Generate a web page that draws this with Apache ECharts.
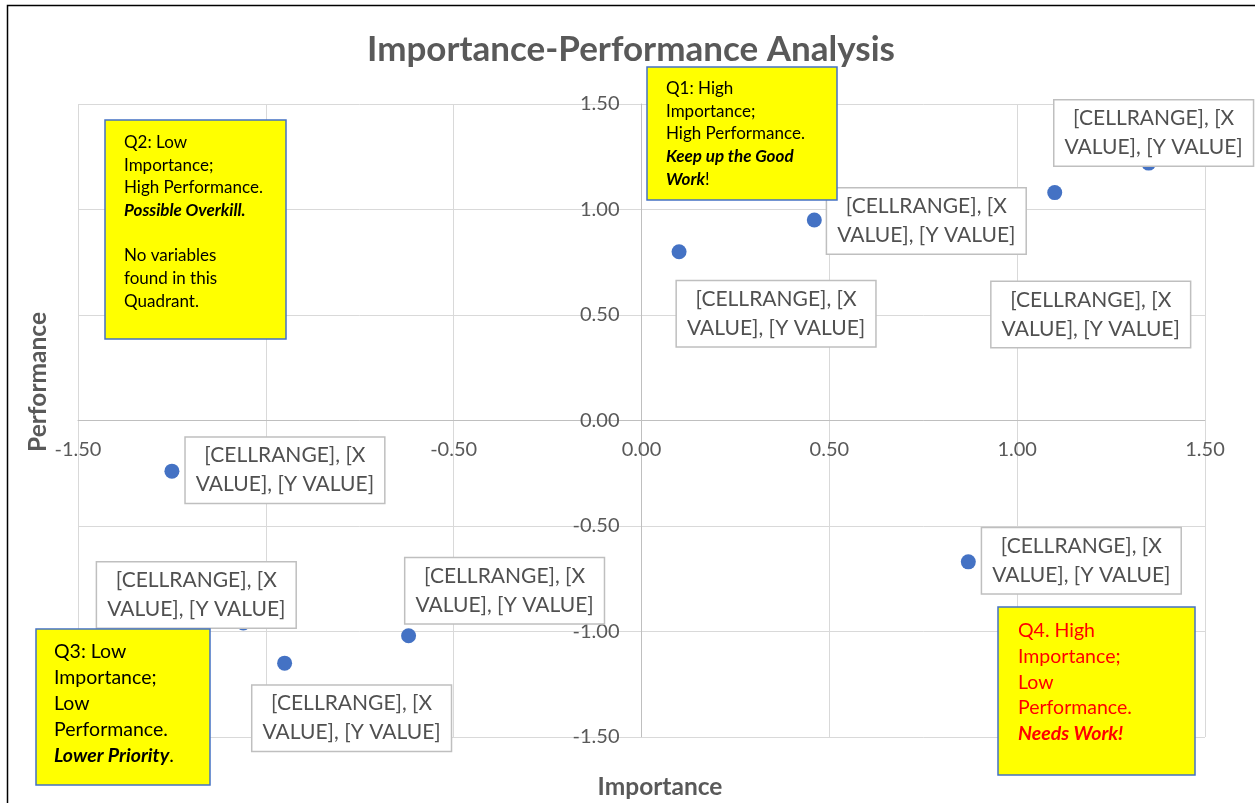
<!DOCTYPE html>
<html><head><meta charset="utf-8">
<script src="https://cdn.jsdelivr.net/npm/echarts@6/dist/echarts.min.js"></script>
<style>html,body{margin:0;padding:0;background:#fff}#c{width:1255px;height:803px}</style>
</head><body><div id="c"></div>
<script>
// ---- data ----
const importance  = [0.10, 0.46, 1.10, 1.35, -1.25, 0.87, -1.06, -0.95, -0.62];
const performance = [0.80, 0.95, 1.08, 1.22, -0.24, -0.67, -0.96, -1.15, -1.02];
const pointLabels = [
  '[CELLRANGE], [X\nVALUE], [Y VALUE]','[CELLRANGE], [X\nVALUE], [Y VALUE]',
  '[CELLRANGE], [X\nVALUE], [Y VALUE]','[CELLRANGE], [X\nVALUE], [Y VALUE]',
  '[CELLRANGE], [X\nVALUE], [Y VALUE]','[CELLRANGE], [X\nVALUE], [Y VALUE]',
  '[CELLRANGE], [X\nVALUE], [Y VALUE]','[CELLRANGE], [X\nVALUE], [Y VALUE]',
  '[CELLRANGE], [X\nVALUE], [Y VALUE]'];
const axisMin = -1.5, axisMax = 1.5, axisStep = 0.5;
const titleText = 'Importance-Performance Analysis';
const xName = 'Importance', yName = 'Performance';
const q1Text = '{n|Q1: High}\n{n|Importance;}\n{n|High Performance.}\n{b|Keep up the Good}\n{b|Work}{n|!}';
const q2Text = '{n|Q2: Low}\n{n|Importance;}\n{n|High Performance.}\n{b|Possible Overkill.}\n{n| }\n{n|No variables}\n{n|found in this}\n{n|Quadrant.}';
const q3Text = '{n|Q3: Low}\n{n|Importance;}\n{n|Low}\n{n|Performance.}\n{b|Lower Priority}{n|.}';
const q4Text = '{n|Q4. High}\n{n|Importance;}\n{n|Low}\n{n|Performance.}\n{b|Needs Work!}';

// ---- layout/style (not data) ----
const FONT = 'Lato';
const labelOffsets = [[97,62],[112,1],[36,122],[5,-30],[113,-1],[113,-1],[-47,-28],[67,55],[96,-45]];
const W = 1255, H = 803, GL = 78, GT = 104, GR = 50, GB = 66;
const gw = W - GL - GR, gh = H - GT - GB;

const chart = echarts.init(document.getElementById('c'), null, {renderer:'canvas'});
function quadBox(x,y,w,h,tx,ty,text,fs,lh,color){
  return {type:'group', z:100, children:[
    {type:'rect', z:100, shape:{x:x,y:y,width:w,height:h}, style:{fill:'#ffff00', stroke:'#4472c4', lineWidth:1.5}},
    {type:'text', z:101, x:tx, y:ty, style:{text:text, fontFamily:FONT, verticalAlign:'top',
      rich:{n:{fontSize:fs, lineHeight:lh, fill:color, fontFamily:FONT},
            b:{fontSize:fs, lineHeight:lh, fill:color, fontFamily:FONT, fontWeight:'bold', fontStyle:'italic'}}}}
  ]};
}
const data = importance.map((x,i)=>({
  value:[x, performance[i]],
  label:{offset:labelOffsets[i]}
}));
chart.setOption({
  animation:false,
  backgroundColor:'#fff',
  textStyle:{fontFamily:FONT},
  grid:{left:GL, top:GT, right:GR, bottom:GB, containLabel:false},
  xAxis:{type:'value', min:axisMin, max:axisMax, interval:axisStep, position:'bottom',
    offset:-gh/2,
    axisLine:{onZero:false, lineStyle:{color:'#bfbfbf', width:1}},
    axisTick:{show:false},
    splitLine:{lineStyle:{color:'#d9d9d9', width:1}},
    axisLabel:{formatter:v=>v.toFixed(2), color:'#595959', fontSize:20, fontFamily:FONT, margin:19}},
  yAxis:{type:'value', min:axisMin, max:axisMax, interval:axisStep, position:'left',
    offset:-gw/2,
    axisLine:{onZero:false, lineStyle:{color:'#bfbfbf', width:1}},
    axisTick:{show:false},
    splitLine:{lineStyle:{color:'#d9d9d9', width:1}},
    axisLabel:{formatter:v=>v.toFixed(2), color:'#595959', fontSize:20, fontFamily:FONT, margin:22}},
  series:[{type:'scatter', symbol:'circle', symbolSize:15,
    itemStyle:{color:'#4472c4', opacity:1},
    label:{show:true, position:'inside', formatter:p=>pointLabels[p.dataIndex],
      color:'#505050', fontSize:21, fontFamily:FONT, lineHeight:29,
      backgroundColor:'#fff', borderColor:'#bfbfbf', borderWidth:1.5, padding:[4,10,3,10]},
    data:data}],
  graphic:[
    {type:'rect', z:200, shape:{x:7.5,y:5.5,width:1270,height:820}, style:{fill:null, stroke:'#000', lineWidth:1.5}},
    {type:'text', z:150, x:631, y:50, style:{text:titleText, fontFamily:FONT, fontSize:35, fontWeight:'bold', fill:'#595959', align:'center', verticalAlign:'middle'}},
    {type:'text', z:150, x:660, y:787, style:{text:xName, fontFamily:FONT, fontSize:24.5, fontWeight:'bold', fill:'#595959', align:'center', verticalAlign:'middle'}},
    {type:'text', z:150, x:38, y:382, rotation:Math.PI/2, style:{text:yName, fontFamily:FONT, fontSize:24.5, fontWeight:'bold', fill:'#595959', align:'center', verticalAlign:'middle'}},
    quadBox(647,67,190,133,666,77,q1Text,17,22.7,'#000'),
    quadBox(105,120,181,219,124,131,q2Text,17,22.7,'#000'),
    quadBox(36,629,174,156,54,639,q3Text,19.5,26,'#000'),
    quadBox(998,607,197,168,1018,618,q4Text,19.5,25.7,'#ff0000')
  ]
});
</script></body></html>
